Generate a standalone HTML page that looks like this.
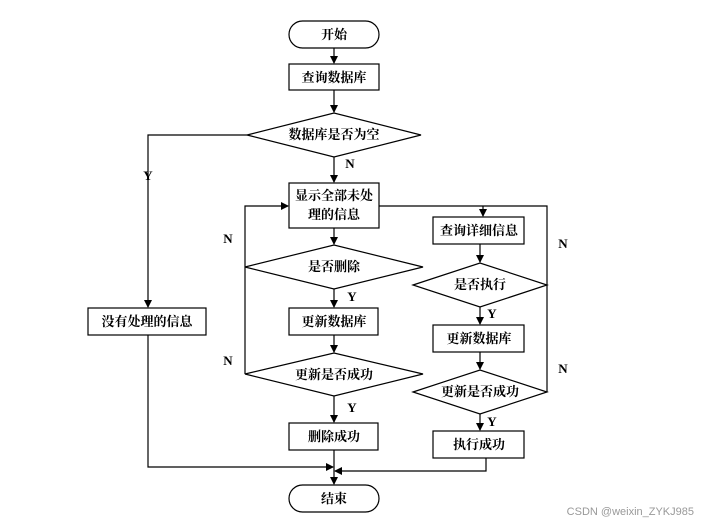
<!DOCTYPE html>
<html><head><meta charset="utf-8"><style>
body{margin:0;background:#fff;width:714px;height:524px;overflow:hidden}
svg text{font-family:"Liberation Serif","Noto Serif CJK SC",serif;font-weight:bold;font-size:13px;fill:#000}
</style></head><body>
<svg width="714" height="524" viewBox="0 0 714 524" xmlns="http://www.w3.org/2000/svg">
<defs><marker id="a" markerWidth="8" markerHeight="8" refX="7" refY="4" orient="auto" markerUnits="userSpaceOnUse"><path d="M0,0L8,4L0,8z" fill="#000"/></marker></defs>
<g fill="none" stroke="#000" stroke-width="1.2">
<rect x="289" y="21" width="90" height="27" rx="13.5"/>
<rect x="289" y="64" width="90" height="26"/>
<polygon points="247,135 334,113 421,135 334,157"/>
<rect x="289" y="183" width="90" height="45"/>
<polygon points="245,267 334,245 423,267 334,289"/>
<rect x="289" y="308" width="89" height="27"/>
<polygon points="245,374 334,353 423,374 334,396"/>
<rect x="289" y="423" width="89" height="27"/>
<rect x="88" y="308" width="118" height="27"/>
<rect x="433" y="217" width="91" height="27"/>
<polygon points="413,285 480,263 547,285 480,307"/>
<rect x="433" y="325" width="91" height="27"/>
<polygon points="413,392 480,370 547,392 480,414"/>
<rect x="433" y="431" width="91" height="27"/>
<rect x="289" y="485" width="90" height="27" rx="13.5"/>
<line x1="334" y1="48" x2="334" y2="63" marker-end="url(#a)"/>
<line x1="334" y1="90" x2="334" y2="112" marker-end="url(#a)"/>
<line x1="334" y1="157" x2="334" y2="182" marker-end="url(#a)"/>
<polyline points="247,135 148,135 148,307" marker-end="url(#a)"/>
<line x1="334" y1="228" x2="334" y2="244" marker-end="url(#a)"/>
<line x1="334" y1="289" x2="334" y2="307" marker-end="url(#a)"/>
<line x1="334" y1="335" x2="334" y2="352" marker-end="url(#a)"/>
<line x1="334" y1="396" x2="334" y2="422" marker-end="url(#a)"/>
<polyline points="245,267 245,206 288,206" marker-end="url(#a)"/>
<line x1="245" y1="374" x2="245" y2="267"/>
<polyline points="379,206 547,206 547,392"/>
<line x1="547" y1="285" x2="547" y2="285"/>
<line x1="483" y1="206" x2="483" y2="216" marker-end="url(#a)"/>
<line x1="480" y1="244" x2="480" y2="262" marker-end="url(#a)"/>
<line x1="480" y1="307" x2="480" y2="324" marker-end="url(#a)"/>
<line x1="480" y1="352" x2="480" y2="369" marker-end="url(#a)"/>
<line x1="480" y1="414" x2="480" y2="430" marker-end="url(#a)"/>
<line x1="334" y1="450" x2="334" y2="484" marker-end="url(#a)"/>
<polyline points="148,335 148,467 333,467" marker-end="url(#a)"/>
<polyline points="486,458 486,471 335,471" marker-end="url(#a)"/>
</g>
<g text-anchor="middle">
<text x="334" y="39">开始</text>
<text x="334" y="82">查询数据库</text>
<text x="334" y="139">数据库是否为空</text>
<text x="334" y="200">显示全部未处</text>
<text x="334" y="219">理的信息</text>
<text x="334" y="271">是否删除</text>
<text x="334" y="326">更新数据库</text>
<text x="334" y="379">更新是否成功</text>
<text x="334" y="441">删除成功</text>
<text x="147" y="326">没有处理的信息</text>
<text x="479" y="235">查询详细信息</text>
<text x="480" y="289">是否执行</text>
<text x="479" y="343">更新数据库</text>
<text x="480" y="396">更新是否成功</text>
<text x="479" y="449">执行成功</text>
<text x="334" y="503">结束</text>
<text x="148" y="180">Y</text>
<text x="350" y="168">N</text>
<text x="228" y="243">N</text>
<text x="228" y="365">N</text>
<text x="352" y="301">Y</text>
<text x="352" y="412">Y</text>
<text x="563" y="248">N</text>
<text x="563" y="373">N</text>
<text x="492" y="318">Y</text>
<text x="492" y="426">Y</text>
</g>
<text x="694" y="515" text-anchor="end" style="font-family:'Liberation Sans',sans-serif;font-weight:normal;font-size:11px;fill:#999">CSDN @weixin_ZYKJ985</text>
</svg>
</body></html>
